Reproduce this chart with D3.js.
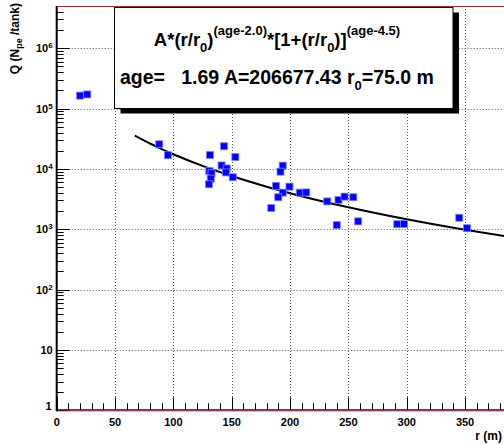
<!DOCTYPE html>
<html>
<head>
<meta charset="utf-8">
<script src="https://cdn.jsdelivr.net/npm/d3@7"></script>
<style>
  html, body { margin: 0; padding: 0; background: #fff; }
  svg { display: block; font-family: "Liberation Sans", Arial, Helvetica, sans-serif; font-weight: bold; }
</style>
</head>
<body>
<div id="chart"></div>
<script>
// distance from shower core (m) and signal (N_pe / tank)
const radius = [20, 26.2, 87.9, 95.4, 131.4, 143.4, 153.1, 141.3, 145.7, 145.1, 130.8, 132.7,
  150.9, 132.0, 130.5, 193.7, 191.8, 188.0, 199.5, 193.7, 189.9, 183.9, 208.3, 213.9,
  231.9, 241.5, 246.7, 254.2, 240.0, 258.4, 291.9, 297.7, 345.0, 351.7];
const signal = [163700, 171400, 25600, 16830, 17020, 23720, 15780, 11400, 10170, 8730, 9250, 8470,
  7270, 6890, 5560, 11320, 9000, 5220, 5080, 4040, 3390, 2250, 4040, 4070,
  2890, 3060, 3470, 3390, 1170, 1350, 1210, 1220, 1550, 1040];

// fitted LDF curve as drawn
const fitR = [67, 80, 90, 100, 125, 150, 175, 200, 250, 300, 350, 385];
const fitQ = [35640, 26330, 21310, 17490, 11200, 7609, 5396, 3961, 2311, 1460, 979, 761];

const xTicks = [0, 50, 100, 150, 200, 250, 300, 350];
const yDecades = [1, 10, 100, 1e3, 1e4, 1e5, 1e6];
const yLabels = ['1', '10', '10^2', '10^3', '10^4', '10^5', '10^6'];

const W = 504, H = 445;
const svg = d3.select('#chart').append('svg').attr('width', W).attr('height', H);

const x = d3.scaleLinear().domain([0, 385]).range([56.7, 505.9]);
const y = d3.scaleLog().domain([1, 5e6]).range([410.3, 6]);
const x0 = x(0), yb = y(1), yt = y(5e6);

// grid
const grid = svg.append('g').attr('stroke', '#555').attr('stroke-dasharray', '1,2').attr('stroke-width', 1);
grid.selectAll('line.gx').data(xTicks.filter(d => d > 0)).enter().append('line')
  .attr('x1', d => Math.round(x(d)) + 0.5).attr('x2', d => Math.round(x(d)) + 0.5)
  .attr('y1', yt).attr('y2', yb);
grid.selectAll('line.gy').data(yDecades.filter(d => d > 1)).enter().append('line')
  .attr('x1', x0).attr('x2', W)
  .attr('y1', d => Math.round(y(d)) + 0.5).attr('y2', d => Math.round(y(d)) + 0.5);

// ticks
const xMinor = d3.range(0, 386, 10);
svg.append('g').selectAll('line').data(xMinor).enter().append('line')
  .attr('x1', d => Math.round(x(d)) + 0.5).attr('x2', d => Math.round(x(d)) + 0.5)
  .attr('y1', yb).attr('y2', d => yb - (d % 50 === 0 ? 13 : 7))
  .attr('stroke', '#000').attr('stroke-width', 1);

const yMinor = [];
for (let e = 0; e <= 6; e++) for (let m = 1; m <= 9; m++) {
  const v = m * Math.pow(10, e);
  if (v <= 5e6) yMinor.push(v);
}
svg.append('g').selectAll('line').data(yMinor).enter().append('line')
  .attr('x1', x0).attr('x2', d => x0 + (Math.log10(d) % 1 === 0 ? 13 : 7))
  .attr('y1', d => Math.round(y(d)) + 0.5).attr('y2', d => Math.round(y(d)) + 0.5)
  .attr('stroke', '#000').attr('stroke-width', 1);

// frame / axes
svg.append('line').attr('x1', x0).attr('x2', W).attr('y1', yt + 0.5).attr('y2', yt + 0.5)
  .attr('stroke', '#993333').attr('stroke-width', 1);
svg.append('line').attr('x1', x0).attr('x2', W).attr('y1', yb - 0.5).attr('y2', yb - 0.5)
  .attr('stroke', '#000').attr('stroke-width', 1);
svg.append('line').attr('x1', x0).attr('x2', W).attr('y1', yb + 0.5).attr('y2', yb + 0.5)
  .attr('stroke', '#7a2020').attr('stroke-width', 1);
svg.append('line').attr('x1', x0).attr('x2', x0).attr('y1', yt).attr('y2', yb + 1)
  .attr('stroke', '#000').attr('stroke-width', 2);

// tick labels
svg.append('g').selectAll('text').data(xTicks).enter().append('text')
  .attr('x', d => x(d)).attr('y', yb + 16)
  .attr('text-anchor', 'middle').attr('font-size', 11).text(d => d);

const yl = svg.append('g').selectAll('text').data(yDecades).enter().append('text')
  .attr('x', d => d === 1 ? x0 - 5 : x0 - 4)
  .attr('y', d => y(d) + (d === 1 ? 0 : 4))
  .attr('text-anchor', 'end').attr('font-size', 11);
yl.each(function (d, i) {
  const t = d3.select(this);
  const lab = yLabels[i];
  if (lab.includes('^')) {
    const [b, p] = lab.split('^');
    t.append('tspan').text(b);
    t.append('tspan').attr('font-size', 8).attr('dy', -4).text(p);
  } else {
    t.text(lab);
  }
});

// axis titles
svg.append('text').attr('x', 502).attr('y', 440).attr('text-anchor', 'end')
  .attr('font-size', 12).text('r (m)');
const yt1 = svg.append('text').attr('transform', 'translate(19,3) rotate(-90)')
  .attr('text-anchor', 'end').attr('font-size', 12);
yt1.append('tspan').text('Q (N');
yt1.append('tspan').attr('font-size', 9).attr('dy', 3).text('pe');
yt1.append('tspan').attr('dy', -3).text(' /tank)');

// clip
svg.append('clipPath').attr('id', 'plotclip').append('rect')
  .attr('x', x0 + 1).attr('y', yt).attr('width', W - x0).attr('height', yb - yt);

// fit curve
const pts = fitR.map((r, i) => [r, fitQ[i]]);
const line = d3.line().x(d => x(d[0])).y(d => y(d[1])).curve(d3.curveMonotoneX);
svg.append('path').datum(pts)
  .attr('clip-path', 'url(#plotclip)')
  .attr('fill', 'none').attr('stroke', '#000').attr('stroke-width', 2)
  .attr('d', line);

// markers
svg.append('g').selectAll('rect').data(radius.map((r, i) => [r, signal[i]])).enter().append('rect')
  .attr('x', d => x(d[0]) - 3.5).attr('y', d => y(d[1]) - 3.5)
  .attr('width', 7).attr('height', 7)
  .attr('fill', '#0000ff').attr('stroke', '#7f7fff').attr('stroke-width', 0.8);

// fit legend box with shadow
const bx = 114.5, by = 7.5, bw = 338.5, bh = 101;
svg.append('rect').attr('x', bx + 6).attr('y', by + 5).attr('width', bw).attr('height', bh)
  .attr('fill', '#000');
svg.append('rect').attr('x', bx).attr('y', by).attr('width', bw).attr('height', bh)
  .attr('fill', '#fff').attr('stroke', '#000').attr('stroke-width', 1);

const l1 = svg.append('text').attr('x', 277).attr('y', 46)
  .attr('text-anchor', 'middle').attr('font-size', 18.5);
l1.append('tspan').text('A*(r/r');
l1.append('tspan').attr('font-size', 13).attr('dy', 6).text('0');
l1.append('tspan').attr('dy', -6).text(')');
l1.append('tspan').attr('font-size', 13).attr('dy', -11).text('(age-2.0)');
l1.append('tspan').attr('dy', 11).text('*[1+(r/r');
l1.append('tspan').attr('font-size', 13).attr('dy', 6).text('0');
l1.append('tspan').attr('dy', -6).text(')]');
l1.append('tspan').attr('font-size', 13).attr('dy', -11).text('(age-4.5)');

const l2 = svg.append('text').attr('x', 120).attr('y', 84)
  .attr('font-size', 19.5).attr('xml:space', 'preserve');
l2.append('tspan').text('age=   1.69 A=206677.43 r');
l2.append('tspan').attr('font-size', 13).attr('dy', 6).text('0');
l2.append('tspan').attr('dy', -6).text('=75.0 m');
</script>
</body>
</html>
